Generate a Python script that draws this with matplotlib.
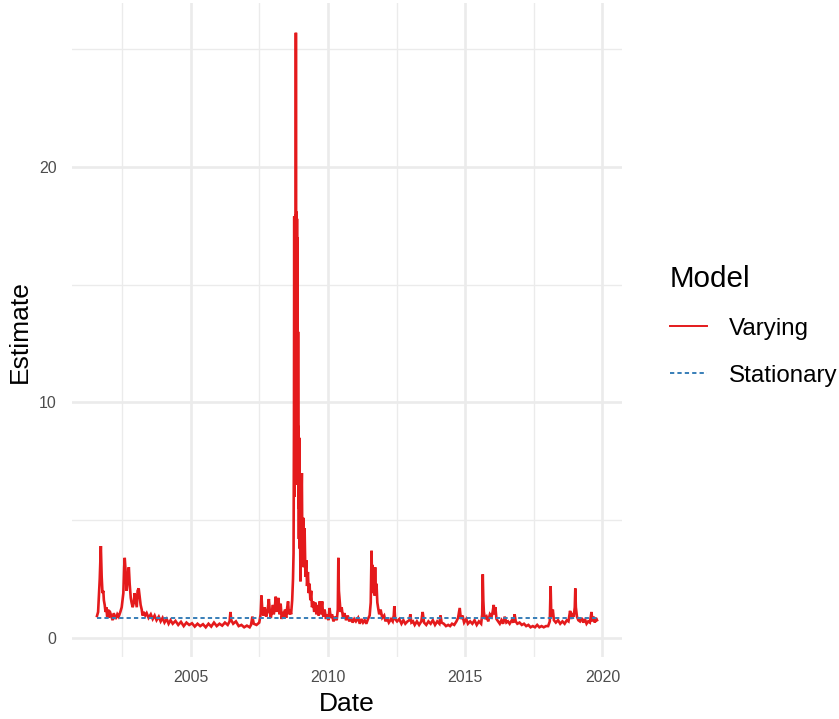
import matplotlib
matplotlib.use('Agg')
import matplotlib.pyplot as plt
import matplotlib.dates as mdates
from matplotlib.lines import Line2D
import pandas as pd

plt.rcParams['font.family'] = ['Liberation Sans', 'DejaVu Sans']

# decimal year of each reading, and the "Varying" estimate
years = [
    2001.59, 2001.63, 2001.69, 2001.73, 2001.76, 2001.79, 2001.82, 2001.84, 2001.87, 2001.90,
    2001.93, 2001.96, 2002.00, 2002.02, 2002.05, 2002.09, 2002.16, 2002.20, 2002.27, 2002.33,
    2002.38, 2002.44, 2002.49, 2002.55, 2002.58, 2002.60, 2002.64, 2002.67, 2002.71, 2002.75,
    2002.78, 2002.82, 2002.85, 2002.89, 2002.93, 2002.96, 2003.00, 2003.04, 2003.07, 2003.11,
    2003.15, 2003.18, 2003.22, 2003.25, 2003.29, 2003.35, 2003.40, 2003.47, 2003.55, 2003.62,
    2003.69, 2003.76, 2003.84, 2003.91, 2003.98, 2004.05, 2004.13, 2004.20, 2004.27, 2004.35,
    2004.45, 2004.55, 2004.65, 2004.75, 2004.85, 2004.95, 2005.05, 2005.15, 2005.25, 2005.35,
    2005.45, 2005.55, 2005.65, 2005.75, 2005.85, 2005.95, 2006.05, 2006.15, 2006.25, 2006.35,
    2006.42, 2006.45, 2006.48, 2006.55, 2006.65, 2006.75, 2006.85, 2006.95, 2007.05, 2007.15,
    2007.20, 2007.25, 2007.30, 2007.40, 2007.50, 2007.55, 2007.58, 2007.61, 2007.65, 2007.70,
    2007.75, 2007.80, 2007.85, 2007.88, 2007.92, 2007.96, 2008.00, 2008.03, 2008.07, 2008.10,
    2008.13, 2008.17, 2008.20, 2008.24, 2008.28, 2008.32, 2008.36, 2008.40, 2008.44, 2008.48,
    2008.52, 2008.55, 2008.58, 2008.62, 2008.66, 2008.70, 2008.73, 2008.75, 2008.765, 2008.775,
    2008.785, 2008.795, 2008.805, 2008.815, 2008.825, 2008.835, 2008.845, 2008.855, 2008.865, 2008.875,
    2008.885, 2008.895, 2008.905, 2008.915, 2008.925, 2008.935, 2008.945, 2008.955, 2008.965, 2008.98,
    2009.00, 2009.02, 2009.05, 2009.07, 2009.10, 2009.12, 2009.15, 2009.18, 2009.21, 2009.24,
    2009.27, 2009.30, 2009.33, 2009.36, 2009.39, 2009.42, 2009.46, 2009.50, 2009.54, 2009.58,
    2009.62, 2009.66, 2009.70, 2009.74, 2009.79, 2009.83, 2009.88, 2009.93, 2009.98, 2010.02,
    2010.06, 2010.10, 2010.15, 2010.20, 2010.26, 2010.32, 2010.36, 2010.38, 2010.40, 2010.42,
    2010.46, 2010.50, 2010.55, 2010.60, 2010.66, 2010.72, 2010.78, 2010.84, 2010.90, 2010.96,
    2011.02, 2011.10, 2011.16, 2011.22, 2011.28, 2011.34, 2011.40, 2011.46, 2011.52, 2011.56,
    2011.59, 2011.61, 2011.63, 2011.65, 2011.67, 2011.70, 2011.72, 2011.74, 2011.77, 2011.80,
    2011.83, 2011.87, 2011.92, 2011.98, 2012.05, 2012.10, 2012.15, 2012.22, 2012.30, 2012.36,
    2012.40, 2012.42, 2012.45, 2012.52, 2012.60, 2012.68, 2012.75, 2012.82, 2012.90, 2012.97,
    2013.00, 2013.04, 2013.10, 2013.16, 2013.24, 2013.32, 2013.40, 2013.45, 2013.50, 2013.58,
    2013.66, 2013.74, 2013.82, 2013.90, 2013.98, 2014.06, 2014.10, 2014.14, 2014.22, 2014.30,
    2014.38, 2014.45, 2014.52, 2014.60, 2014.68, 2014.74, 2014.80, 2014.84, 2014.90, 2014.96,
    2015.04, 2015.10, 2015.18, 2015.26, 2015.34, 2015.42, 2015.50, 2015.58, 2015.62, 2015.64,
    2015.66, 2015.68, 2015.72, 2015.78, 2015.84, 2015.90, 2015.96, 2016.00, 2016.04, 2016.07,
    2016.10, 2016.14, 2016.20, 2016.26, 2016.32, 2016.38, 2016.44, 2016.50, 2016.56, 2016.62,
    2016.70, 2016.76, 2016.80, 2016.84, 2016.90, 2016.98, 2017.06, 2017.14, 2017.22, 2017.30,
    2017.38, 2017.46, 2017.54, 2017.62, 2017.70, 2017.78, 2017.86, 2017.94, 2018.02, 2018.08,
    2018.11, 2018.13, 2018.16, 2018.19, 2018.23, 2018.30, 2018.38, 2018.46, 2018.54, 2018.62,
    2018.70, 2018.76, 2018.82, 2018.86, 2018.90, 2018.95, 2018.99, 2019.01, 2019.03, 2019.07,
    2019.12, 2019.18, 2019.24, 2019.30, 2019.36, 2019.42, 2019.48, 2019.54, 2019.60, 2019.63,
    2019.68, 2019.72, 2019.76, 2019.80,
]
varying = [
    0.93, 1.10, 2.50, 3.90, 2.60, 1.90, 2.00, 1.60, 1.40, 1.10,
    1.30, 0.90, 1.20, 0.85, 1.15, 1.00, 0.75, 1.05, 0.80, 1.00,
    0.90, 1.10, 1.30, 1.90, 3.00, 3.40, 2.70, 2.00, 2.60, 3.00,
    2.30, 1.70, 1.50, 1.30, 1.50, 1.90, 1.60, 1.30, 2.00, 2.10,
    1.70, 1.40, 1.20, 0.95, 1.10, 0.95, 1.05, 0.85, 1.00, 0.80,
    0.95, 0.75, 0.90, 0.70, 0.85, 0.65, 0.80, 0.60, 0.75, 0.60,
    0.72, 0.55, 0.68, 0.50, 0.65, 0.55, 0.62, 0.48, 0.60, 0.50,
    0.58, 0.45, 0.60, 0.48, 0.65, 0.50, 0.60, 0.52, 0.65, 0.55,
    0.70, 1.10, 0.75, 0.60, 0.70, 0.50, 0.55, 0.45, 0.52, 0.45,
    0.55, 0.90, 0.60, 0.55, 0.65, 1.00, 1.80, 1.20, 0.95, 1.30,
    0.90, 1.10, 1.65, 1.20, 0.85, 1.10, 1.40, 1.00, 1.30, 1.75,
    1.10, 1.50, 1.70, 1.00, 1.45, 0.80, 1.10, 0.90, 1.20, 0.85,
    1.30, 1.55, 1.00, 1.20, 1.00, 1.60, 2.50, 3.60, 9.00, 17.90,
    6.00, 17.50, 8.00, 18.00, 10.00, 25.70, 12.00, 18.10, 9.00, 17.80,
    6.50, 17.00, 7.00, 13.00, 5.50, 9.00, 4.20, 8.50, 3.80, 5.50,
    2.40, 4.50, 7.00, 3.50, 5.10, 3.00, 4.65, 2.60, 3.30, 2.20,
    2.80, 1.90, 2.30, 1.60, 2.00, 1.30, 1.55, 1.10, 1.50, 1.00,
    1.40, 0.95, 1.55, 1.00, 1.55, 0.90, 1.20, 0.80, 1.00, 0.75,
    1.27, 0.85, 1.00, 0.70, 0.90, 0.75, 1.20, 3.40, 2.00, 1.70,
    1.10, 1.30, 0.85, 1.05, 0.75, 0.95, 0.70, 0.85, 0.65, 0.80,
    0.70, 0.85, 0.60, 0.80, 0.65, 0.75, 0.60, 0.80, 0.95, 1.50,
    3.70, 2.20, 3.10, 1.90, 2.50, 1.80, 3.00, 2.00, 2.30, 1.50,
    1.27, 1.00, 1.20, 0.85, 0.95, 0.70, 0.85, 0.65, 0.80, 0.70,
    0.95, 1.35, 0.80, 0.70, 0.80, 0.60, 0.75, 0.60, 0.70, 0.75,
    1.00, 0.65, 0.70, 0.55, 0.70, 0.55, 0.70, 1.10, 0.65, 0.55,
    0.70, 0.60, 0.75, 0.55, 0.70, 0.60, 0.95, 0.65, 0.60, 0.50,
    0.55, 0.50, 0.60, 0.55, 0.70, 0.85, 1.27, 0.80, 0.95, 0.65,
    0.80, 0.60, 0.70, 0.60, 0.75, 0.55, 0.70, 0.60, 1.00, 2.70,
    1.60, 1.10, 0.80, 0.90, 0.70, 1.00, 0.90, 1.10, 1.40, 1.00,
    1.30, 0.80, 0.70, 0.60, 0.75, 0.60, 0.90, 0.65, 0.70, 0.60,
    0.75, 0.65, 1.00, 0.70, 0.60, 0.65, 0.55, 0.60, 0.50, 0.55,
    0.45, 0.50, 0.45, 0.55, 0.45, 0.50, 0.45, 0.50, 0.50, 0.70,
    2.20, 1.20, 0.90, 1.20, 0.75, 0.65, 0.75, 0.60, 0.70, 0.60,
    0.75, 0.70, 1.15, 0.80, 1.05, 0.90, 1.30, 2.10, 1.30, 0.90,
    0.75, 0.70, 0.85, 0.65, 0.80, 0.60, 0.70, 0.65, 1.10, 0.70,
    0.90, 0.65, 0.85, 0.75,
]
stationary = 0.83

x_breaks = [2005, 2010, 2015, 2020]
y_breaks = [0, 10, 20]


def to_date(y):
    yr = int(y)
    return pd.Timestamp(year=yr, month=1, day=1) + pd.Timedelta(days=(y - yr) * 365.25)


dates = [to_date(y) for y in years]
stat_vals = [stationary] * len(dates)

red = '#E41A1C'
blue = '#377EB8'
grid = '#EBEBEB'

fig = plt.figure(figsize=(8.39, 7.19), dpi=100)
ax = fig.add_axes([72 / 839, 1 - 657 / 719, 550 / 839, 654 / 719])

ax.plot(dates, varying, color=red, lw=1.9, solid_joinstyle='miter', zorder=3)
ax.plot(dates, stat_vals, color=blue, lw=1.4, dashes=(2.2, 1.6), zorder=4)

# limits with ggplot-like 5% expansion
x0, x1 = mdates.date2num(dates[0]), mdates.date2num(dates[-1])
dx = (x1 - x0) * 0.05
ax.set_xlim(x0 - dx, x1 + dx)
lo, hi = min(varying), max(varying)
dy = (hi - lo) * 0.05
ax.set_ylim(lo - dy, hi + dy)

majors = [mdates.date2num(pd.Timestamp(year=b, month=1, day=1)) for b in x_breaks]
minors = [majors[0] - (majors[1] - majors[0]) / 2] + [(a + b) / 2 for a, b in zip(majors[:-1], majors[1:])]
ax.set_xticks(majors)
ax.set_xticklabels([str(b) for b in x_breaks])
ax.set_xticks(minors, minor=True)
ax.set_yticks(y_breaks)
ax.set_yticks([5, 15, 25], minor=True)

ax.grid(True, which='major', color=grid, lw=1.9)
ax.grid(True, which='minor', color=grid, lw=0.95)
ax.set_axisbelow(True)
for s in ax.spines.values():
    s.set_visible(False)
ax.tick_params(which='both', length=0)
ax.tick_params(axis='x', pad=9, labelsize=11.4, labelcolor='#4D4D4D')
ax.tick_params(axis='y', pad=11, labelsize=11.4, labelcolor='#4D4D4D')

fig.text(347 / 839, 1 - 704 / 719, 'Date', ha='center', va='center', fontsize=19)
fig.text(20 / 839, 1 - 332 / 719, 'Estimate', ha='center', va='center', rotation=90, fontsize=19)

handles = [Line2D([], [], color=red, lw=1.4),
           Line2D([], [], color=blue, lw=1.4, dashes=(2.2, 1.6))]
leg = fig.legend(handles, ['Varying', 'Stationary'], title='Model',
                 loc='upper left', bbox_to_anchor=(670 / 839, 1 - 265 / 719),
                 frameon=False, fontsize=17.4, title_fontsize=21.3,
                 handlelength=1.55, handletextpad=0.88, labelspacing=1.03,
                 borderpad=0, borderaxespad=0, alignment='left')

fig.savefig('out.png', dpi=100, facecolor='white')
